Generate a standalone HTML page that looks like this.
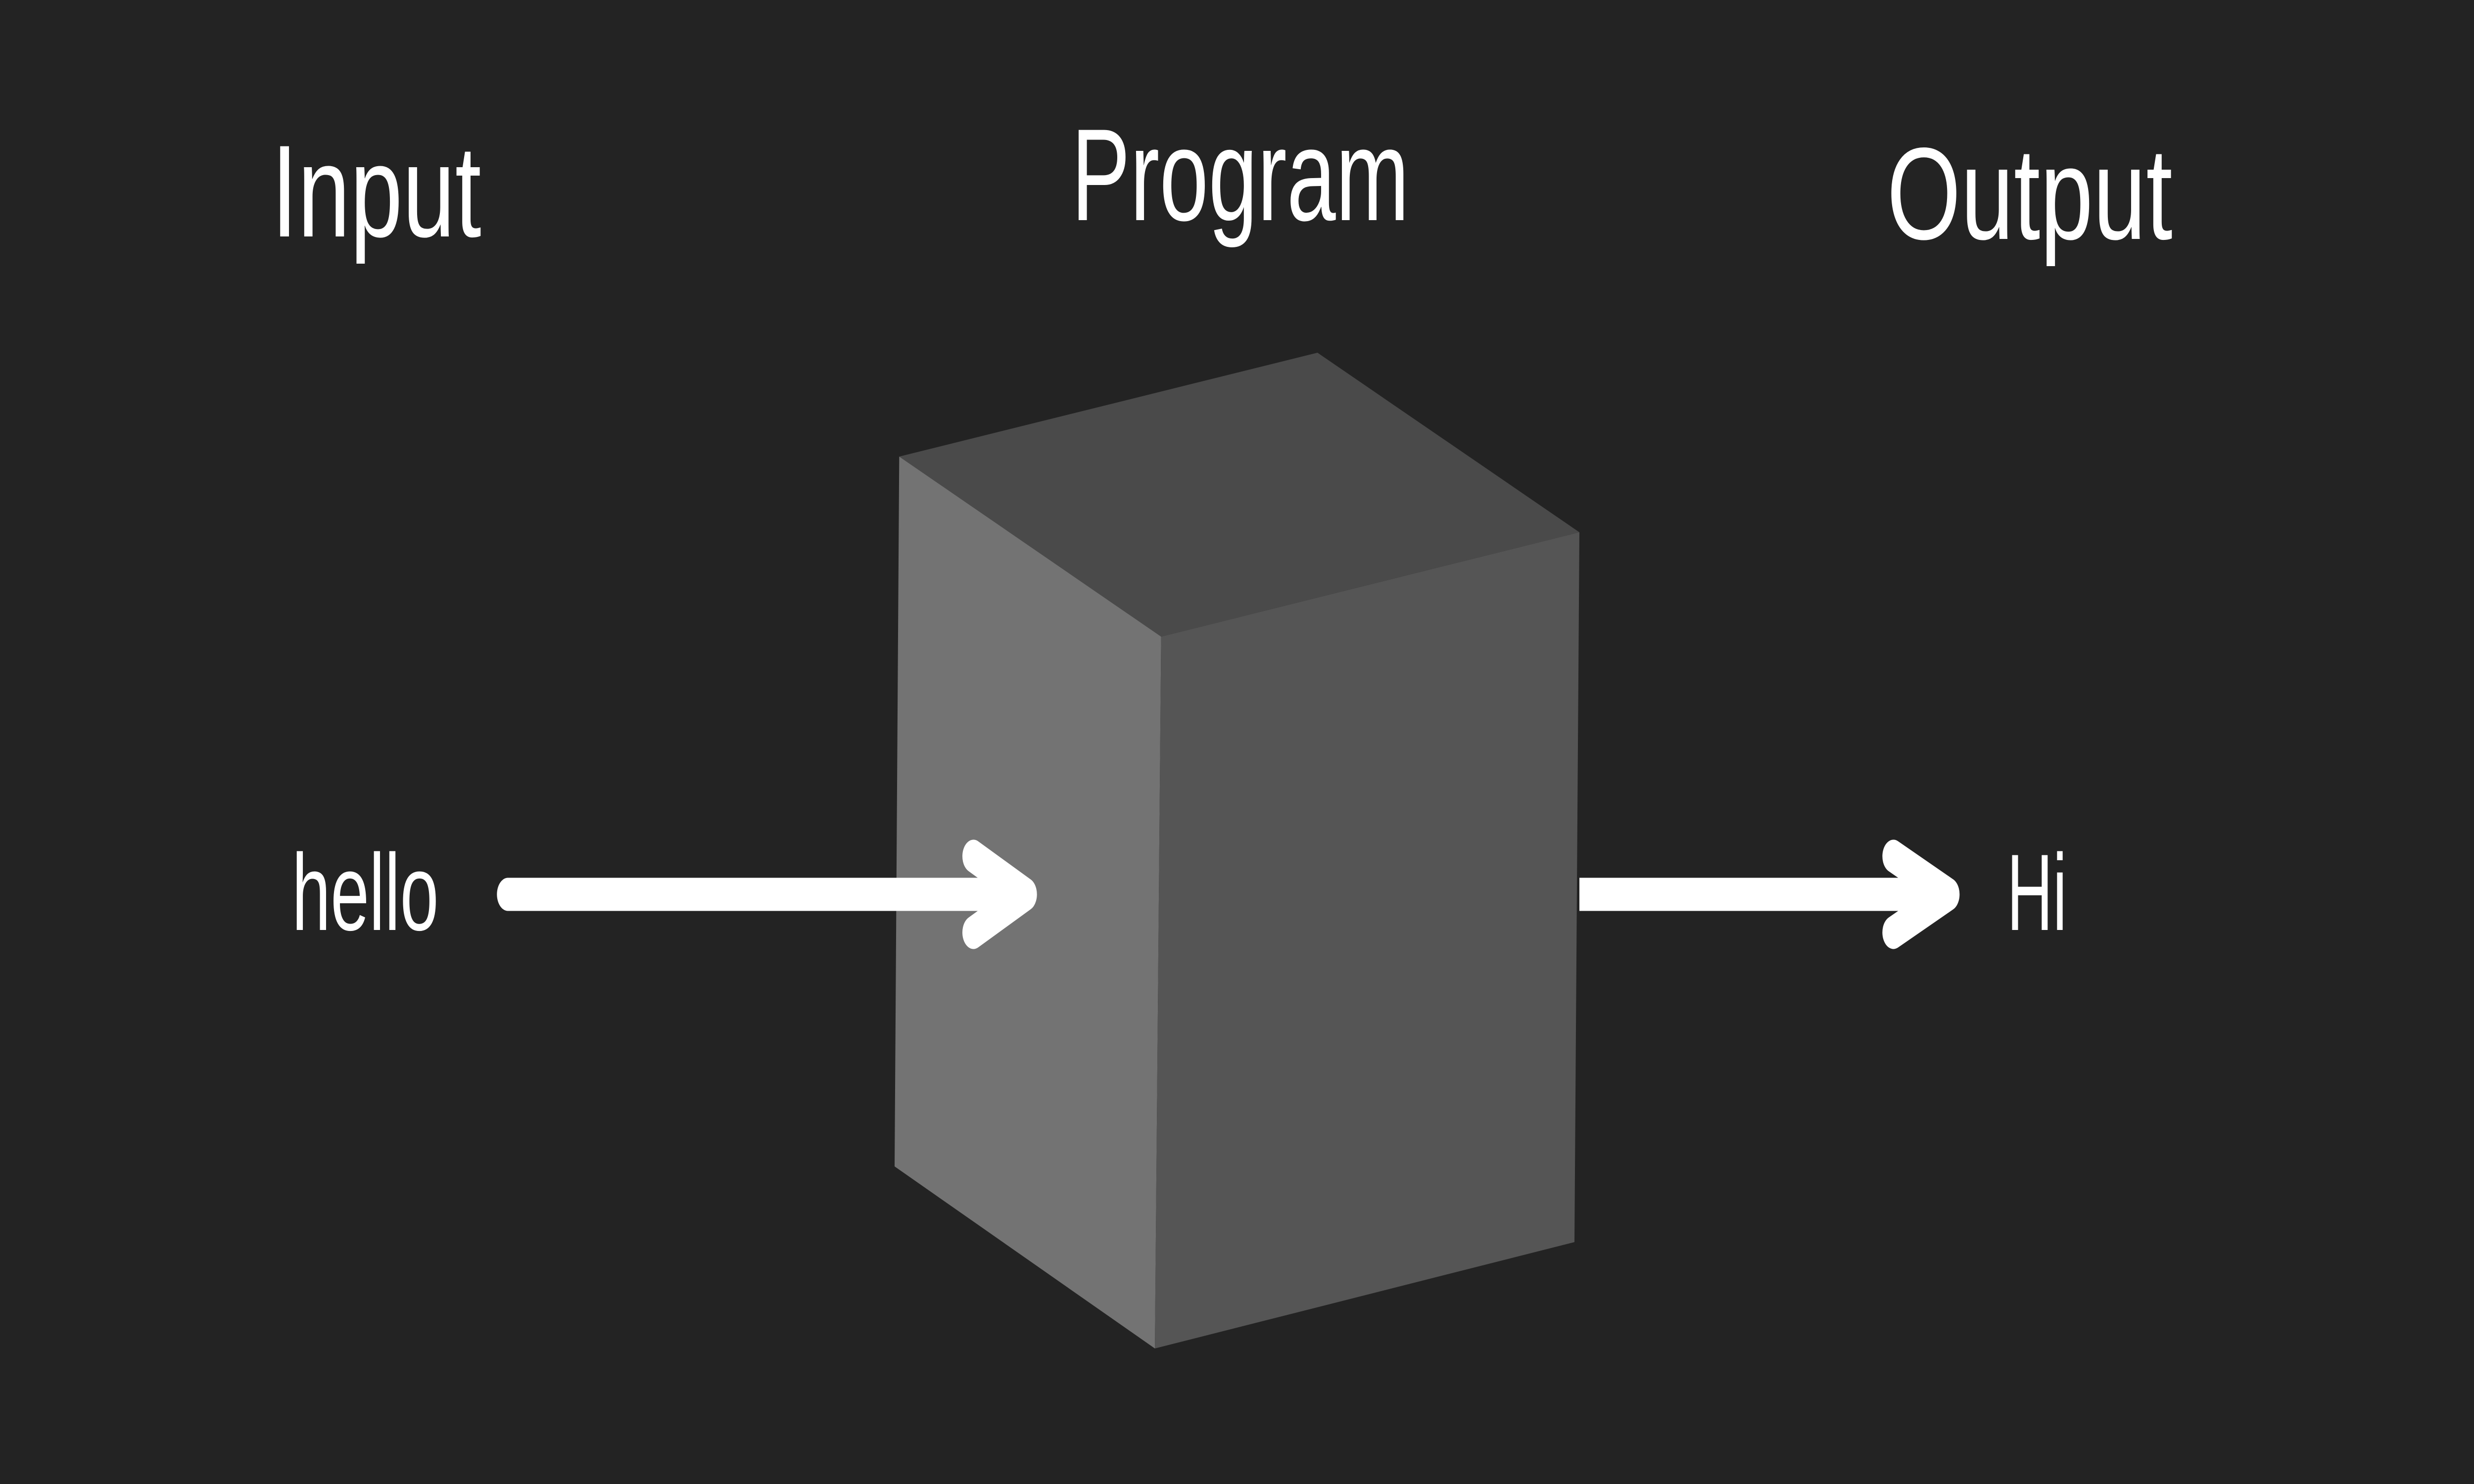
<!DOCTYPE html>
<html><head><meta charset="utf-8"><style>
html,body{margin:0;padding:0;background:#232323;width:100%;height:100%;overflow:hidden;}
svg{display:block;width:100vw;height:100vh;}
text{font-family:"Liberation Sans",sans-serif;fill:#ffffff;}
</style></head><body>
<svg viewBox="0 0 7500 3000" preserveAspectRatio="none" xmlns="http://www.w3.org/2000/svg">
<rect width="7500" height="3000" fill="#232323"/>
<text x="823" y="478" font-size="265" textLength="636" lengthAdjust="spacingAndGlyphs">Input</text>
<text x="3248" y="445" font-size="265" textLength="1024" lengthAdjust="spacingAndGlyphs">Program</text>
<text x="5720" y="483" font-size="265" textLength="866" lengthAdjust="spacingAndGlyphs">Output</text>
<text x="885" y="1880" font-size="220" textLength="445" lengthAdjust="spacingAndGlyphs">hello</text>
<text x="6084" y="1880" font-size="220" textLength="182" lengthAdjust="spacingAndGlyphs">Hi</text>
<polygon points="2726,923 3994,713 4788,1076 3520,1287" fill="#4a4a4a"/>
<polygon points="2726,923 3520,1287 3501,2726 2712,2358" fill="#737373"/>
<polygon points="3520,1287 4788,1076 4773,2511 3501,2726" fill="#555555"/>
<g stroke="#ffffff" stroke-width="67" stroke-linecap="round" stroke-linejoin="round" fill="none">
<line x1="1540" y1="1808" x2="3090" y2="1808"/>
<polyline points="2951,1731 3110,1808 2951,1885"/>
</g>
<g stroke="#ffffff" stroke-width="67" stroke-linejoin="round" fill="none">
<line x1="4788" y1="1808" x2="5887" y2="1808"/>
<polyline points="5740,1731 5907,1808 5740,1885" stroke-linecap="round"/>
</g>
</svg>
</body></html>
